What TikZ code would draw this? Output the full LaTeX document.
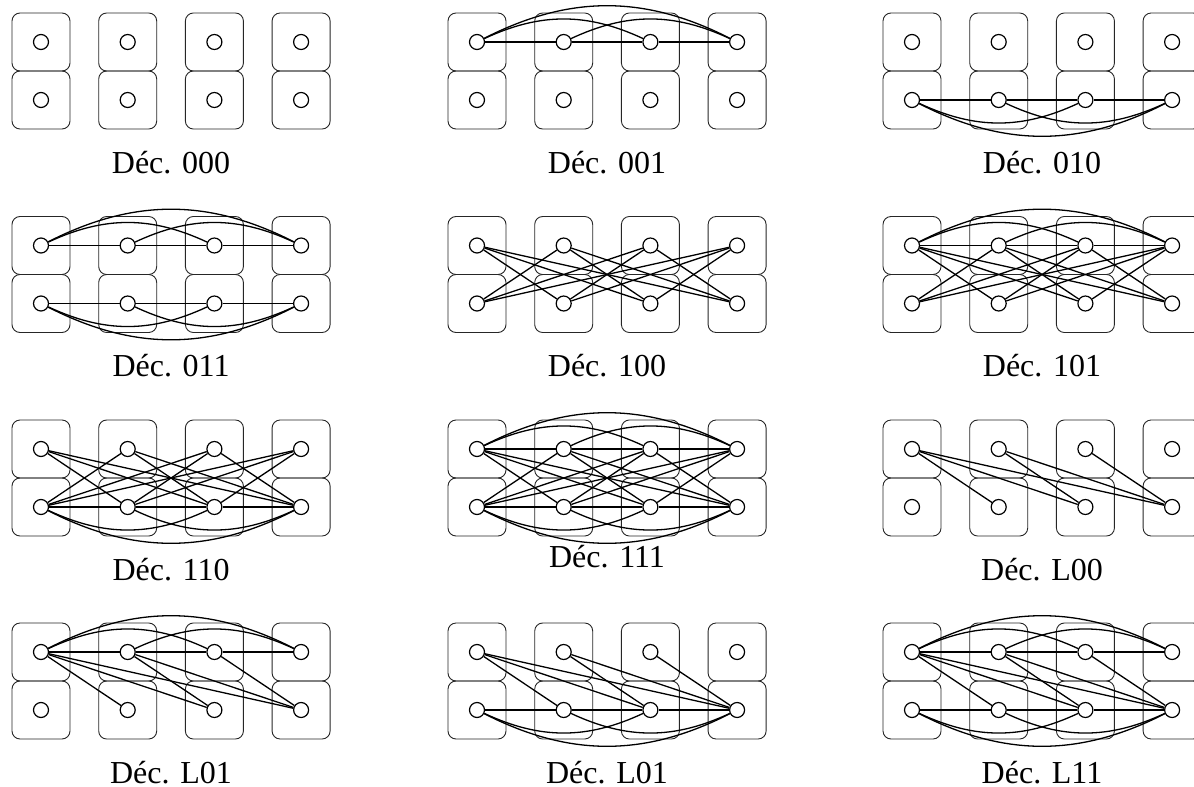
\documentclass[tikz,border=0pt]{standalone}
\usepackage{fontspec}
\setmainfont{Liberation Serif}

\tikzset{
  cellbox/.style={draw=black!85,line width=0.45pt,rounded corners=4pt,
    minimum width=29pt,minimum height=29pt,inner sep=0pt},
  qubit/.style={circle,draw,fill=white,line width=0.6pt,minimum size=7.5pt,inner sep=0pt},
  link/.style={line width=0.65pt},
  declabel/.style={anchor=base,font=\fontsize{16}{19}\selectfont},
}

% one panel: 2 x 4 cells, name prefix #2, origin (#3,#4), caption #5
\newcommand{\drawpanel}[5][-131]{%
  \begin{scope}[shift={(#3,#4)}]
    \foreach \i in {0,...,3} {
      \node[cellbox] (#2Bt\i) at (\i*86.7,0) {};
      \node[cellbox] (#2Bb\i) at (\i*86.7,-58) {};
      \node[qubit] (#2t\i) at (\i*86.7,0) {};
      \node[qubit] (#2b\i) at (\i*86.7,-58) {};
    }
    \node[declabel] (#2lab) at (130,#1) {#5};
  \end{scope}}

% complete graph on the top row
\newcommand{\topclique}[1]{%
  \draw[link] (#1t0)--(#1t1) (#1t1)--(#1t2) (#1t2)--(#1t3);
  \draw[link] (#1t0) to[bend left=25] (#1t2);
  \draw[link] (#1t1) to[bend left=25] (#1t3);
  \draw[link] (#1t0) to[bend left=27] (#1t3);}

% complete graph on the bottom row
\newcommand{\botclique}[1]{%
  \draw[link] (#1b0)--(#1b1) (#1b1)--(#1b2) (#1b2)--(#1b3);
  \draw[link] (#1b0) to[bend right=25] (#1b2);
  \draw[link] (#1b1) to[bend right=25] (#1b3);
  \draw[link] (#1b0) to[bend right=27] (#1b3);}

% top i to bottom j, i != j
\newcommand{\crossall}[1]{%
  \foreach \i in {0,...,3} {
    \foreach \j in {0,...,3} {
      \ifnum\i=\j\else\draw[link] (#1t\i)--(#1b\j);\fi
    }
  }}

% top i to bottom j, i < j
\newcommand{\crosslower}[1]{%
  \foreach \i/\j in {0/1,0/2,0/3,1/2,1/3,2/3}
    \draw[link] (#1t\i)--(#1b\j);}

\begin{document}
\begin{tikzpicture}[x=0.5pt,y=0.5pt]
\useasboundingbox (0,0) rectangle (1194,-787);
\clip (0,0) rectangle (1194,-787);

% row 1
\drawpanel{dA}{41}{-42}{Déc. 000}
\drawpanel{dB}{477}{-42}{Déc. 001}
\topclique{dB}
\drawpanel{dC}{912}{-42}{Déc. 010}
\botclique{dC}

% row 2
\drawpanel{dD}{41}{-245.5}{Déc. 011}
\topclique{dD}
\botclique{dD}
\drawpanel{dE}{477}{-245.5}{Déc. 100}
\crossall{dE}
\drawpanel{dF}{912}{-245.5}{Déc. 101}
\topclique{dF}
\crossall{dF}

% row 3
\drawpanel{dG}{41}{-449}{Déc. 110}
\botclique{dG}
\crossall{dG}
\drawpanel[-118]{dH}{477}{-449}{Déc. 111}
\topclique{dH}
\botclique{dH}
\crossall{dH}
\drawpanel{dI}{912}{-449}{Déc. L00}
\crosslower{dI}

% row 4
\drawpanel{dJ}{41}{-652}{Déc. L01}
\topclique{dJ}
\crosslower{dJ}
\drawpanel{dK}{477}{-652}{Déc. L01}
\botclique{dK}
\crosslower{dK}
\drawpanel{dL}{912}{-652}{Déc. L11}
\topclique{dL}
\botclique{dL}
\crosslower{dL}
\end{tikzpicture}
\end{document}
